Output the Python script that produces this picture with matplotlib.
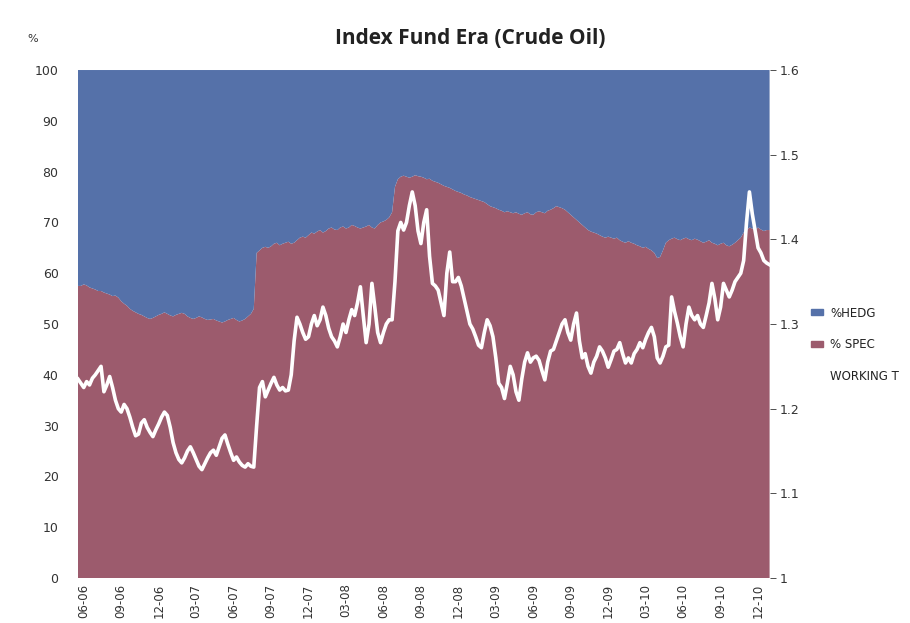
import matplotlib.pyplot as plt
from matplotlib.patches import Patch
from matplotlib.lines import Line2D
import numpy as np

# weekly values, Jun 2006 - Dec 2010
spec = [57.5, 57.5, 57.8, 57.6, 57.2, 57, 56.8, 56.5, 56.5, 56.2,
        56, 55.8, 55.5, 55.6, 55.2, 54.5, 54, 53.6, 53, 52.6,
        52.3, 52, 51.8, 51.5, 51.2, 51, 51.2, 51.5, 51.8, 52,
        52.3, 52, 51.7, 51.5, 51.8, 52, 52.2, 52, 51.5, 51.2,
        51, 51.2, 51.5, 51.3, 51, 50.8, 50.9, 51, 50.7, 50.5,
        50.3, 50.5, 50.8, 51, 51.2, 50.8, 50.5, 50.7, 51, 51.5,
        52, 53, 64, 64.5, 65, 65.2, 65, 65.3, 65.8, 66,
        65.5, 65.8, 66, 66.2, 65.8, 66, 66.5, 67, 67.2, 67,
        67.5, 68, 67.8, 68.2, 68.5, 68, 68.3, 68.8, 69, 68.6,
        68.5, 69, 69.2, 68.8, 69, 69.5, 69.3, 69, 68.8, 69,
        69.2, 69.5, 69, 68.8, 69.5, 70, 70.2, 70.5, 71, 72,
        77, 78.5, 79, 79.2, 79, 78.8, 79, 79.3, 79.1, 79,
        78.8, 78.5, 78.6, 78.2, 78, 77.8, 77.5, 77.2, 77, 76.8,
        76.5, 76.2, 76, 75.8, 75.5, 75.3, 75, 74.8, 74.6, 74.4,
        74.2, 74, 73.6, 73.2, 73, 72.8, 72.5, 72.3, 72, 72.2,
        72, 71.8, 72, 71.7, 71.5, 71.8, 72, 71.6, 71.5, 72,
        72.2, 72, 71.8, 72.3, 72.5, 72.8, 73.2, 73, 72.8, 72.5,
        72, 71.5, 71, 70.5, 70, 69.5, 69, 68.5, 68.2, 68,
        67.8, 67.5, 67.2, 67, 67.2, 67, 66.8, 67, 66.5, 66.2,
        66, 66.3, 66, 65.8, 65.5, 65.3, 65, 65.2, 64.8, 64.5,
        64, 63, 63.2, 64.5, 66, 66.5, 66.8, 67, 66.7, 66.5,
        66.8, 67, 66.7, 66.5, 66.8, 66.6, 66.3, 66, 66.2, 66.5,
        66, 65.8, 65.5, 65.8, 66, 65.5, 65.3, 65.6, 66, 66.5,
        67, 68, 68.5, 69, 68.8, 68.5, 69, 68.6, 68.3, 68.5,
        68.5]

working_t = [1.235, 1.23, 1.225, 1.232, 1.228, 1.236, 1.24, 1.245, 1.25, 1.22,
             1.228, 1.238, 1.225, 1.21, 1.2, 1.196, 1.205, 1.2, 1.19, 1.178,
             1.168, 1.17, 1.183, 1.187, 1.178, 1.172, 1.167, 1.175, 1.182, 1.19,
             1.196, 1.192, 1.178, 1.16, 1.148, 1.14, 1.136, 1.142, 1.15, 1.155,
             1.148, 1.14, 1.132, 1.128, 1.135, 1.142, 1.148, 1.151, 1.145, 1.155,
             1.165, 1.169, 1.158, 1.148, 1.139, 1.143, 1.137, 1.133, 1.131, 1.135,
             1.132, 1.131, 1.18, 1.225, 1.232, 1.214, 1.222, 1.23, 1.237, 1.228,
             1.222, 1.225, 1.221, 1.222, 1.24, 1.28, 1.308, 1.3, 1.29, 1.282,
             1.285, 1.3, 1.31, 1.298, 1.305, 1.32, 1.31, 1.295, 1.285, 1.28,
             1.273, 1.285, 1.3, 1.29, 1.305, 1.317, 1.31, 1.325, 1.344, 1.31,
             1.278, 1.3, 1.348, 1.32, 1.29, 1.278, 1.29, 1.3, 1.305, 1.305,
             1.35, 1.41, 1.42, 1.411, 1.42, 1.44, 1.456, 1.44, 1.41, 1.395,
             1.42, 1.435, 1.38, 1.348, 1.345, 1.34, 1.325, 1.31, 1.36, 1.385,
             1.35, 1.35, 1.355, 1.345, 1.33, 1.315, 1.3, 1.294, 1.285, 1.275,
             1.272, 1.29, 1.305, 1.298, 1.285, 1.26, 1.23, 1.225, 1.212, 1.23,
             1.25, 1.24, 1.22, 1.21, 1.235, 1.255, 1.266, 1.255, 1.26, 1.262,
             1.257, 1.245, 1.234, 1.255, 1.268, 1.27, 1.28, 1.29, 1.3, 1.305,
             1.29, 1.281, 1.3, 1.313, 1.28, 1.26, 1.265, 1.25, 1.242, 1.255,
             1.262, 1.273, 1.268, 1.26, 1.249, 1.258, 1.268, 1.27, 1.278, 1.265,
             1.254, 1.26, 1.254, 1.265, 1.27, 1.278, 1.272, 1.282, 1.29, 1.296,
             1.285, 1.26, 1.254, 1.262, 1.273, 1.275, 1.332, 1.315, 1.301, 1.285,
             1.273, 1.3, 1.32, 1.31, 1.305, 1.31, 1.3, 1.296, 1.31, 1.325,
             1.348, 1.33, 1.305, 1.32, 1.348, 1.34, 1.332, 1.34, 1.35, 1.355,
             1.36, 1.375, 1.42, 1.456, 1.43, 1.41, 1.39, 1.384, 1.375, 1.372,
             1.37]

tick_labels = ['06-06', '09-06', '12-06', '03-07', '06-07', '09-07', '12-07',
               '03-08', '06-08', '09-08', '12-08', '03-09', '06-09', '09-09',
               '12-09', '03-10', '06-10', '09-10', '12-10']

spec = np.array(spec)
hedg = 100 - spec
x = np.arange(len(spec))

blue = '#5571a9'
red = '#9c5b6d'

fig = plt.figure(figsize=(9.1, 6.23), dpi=100)
ax = fig.add_axes([0.0857, 0.0722, 0.76, 0.8154])
ax.stackplot(x, spec, hedg, colors=[red, blue], linewidth=0)
ax.set_xlim(0, len(spec) - 1)
ax.set_ylim(0, 100)
ax.set_yticks(range(0, 101, 10))
ax.set_xticks(2 + 13 * np.arange(len(tick_labels)))
ax.set_xticklabels(tick_labels, rotation=90, fontsize=8.5, color='#333333')
ax.tick_params(axis='y', length=0, labelsize=9, colors='#333333', pad=14)
ax.tick_params(axis='x', length=0, pad=4)
for s in ax.spines.values():
    s.set_visible(False)

ax2 = ax.twinx()
ax2.plot(x, working_t, color='white', lw=2.6)
ax2.set_ylim(1, 1.6)
ax2.set_yticks([1, 1.1, 1.2, 1.3, 1.4, 1.5, 1.6])
ax2.set_yticklabels(['1', '1.1', '1.2', '1.3', '1.4', '1.5', '1.6'])
ax2.tick_params(axis='y', length=4, labelsize=9, colors='#333333', width=0.6)
for s in ax2.spines.values():
    s.set_visible(False)

fig.text(0.517, 0.938, 'Index Fund Era (Crude Oil)', ha='center', va='center',
         fontsize=15, fontweight='bold', family='Open Sans', color='#222222')
fig.text(0.036, 0.938, '%', ha='center', va='center', fontsize=8, color='#333333')

handles = [Patch(color=blue), Patch(color=red), Line2D([], [], color='white', lw=2)]
fig.legend(handles, ['%HEDG', '% SPEC', 'WORKING T'], loc='upper left',
           bbox_to_anchor=(0.88, 0.525), frameon=False, fontsize=8.5,
           handlelength=1.0, handleheight=0.4, labelspacing=1.6, handletextpad=0.6,
           labelcolor='#222222')

fig.savefig('out.png', dpi=100)
